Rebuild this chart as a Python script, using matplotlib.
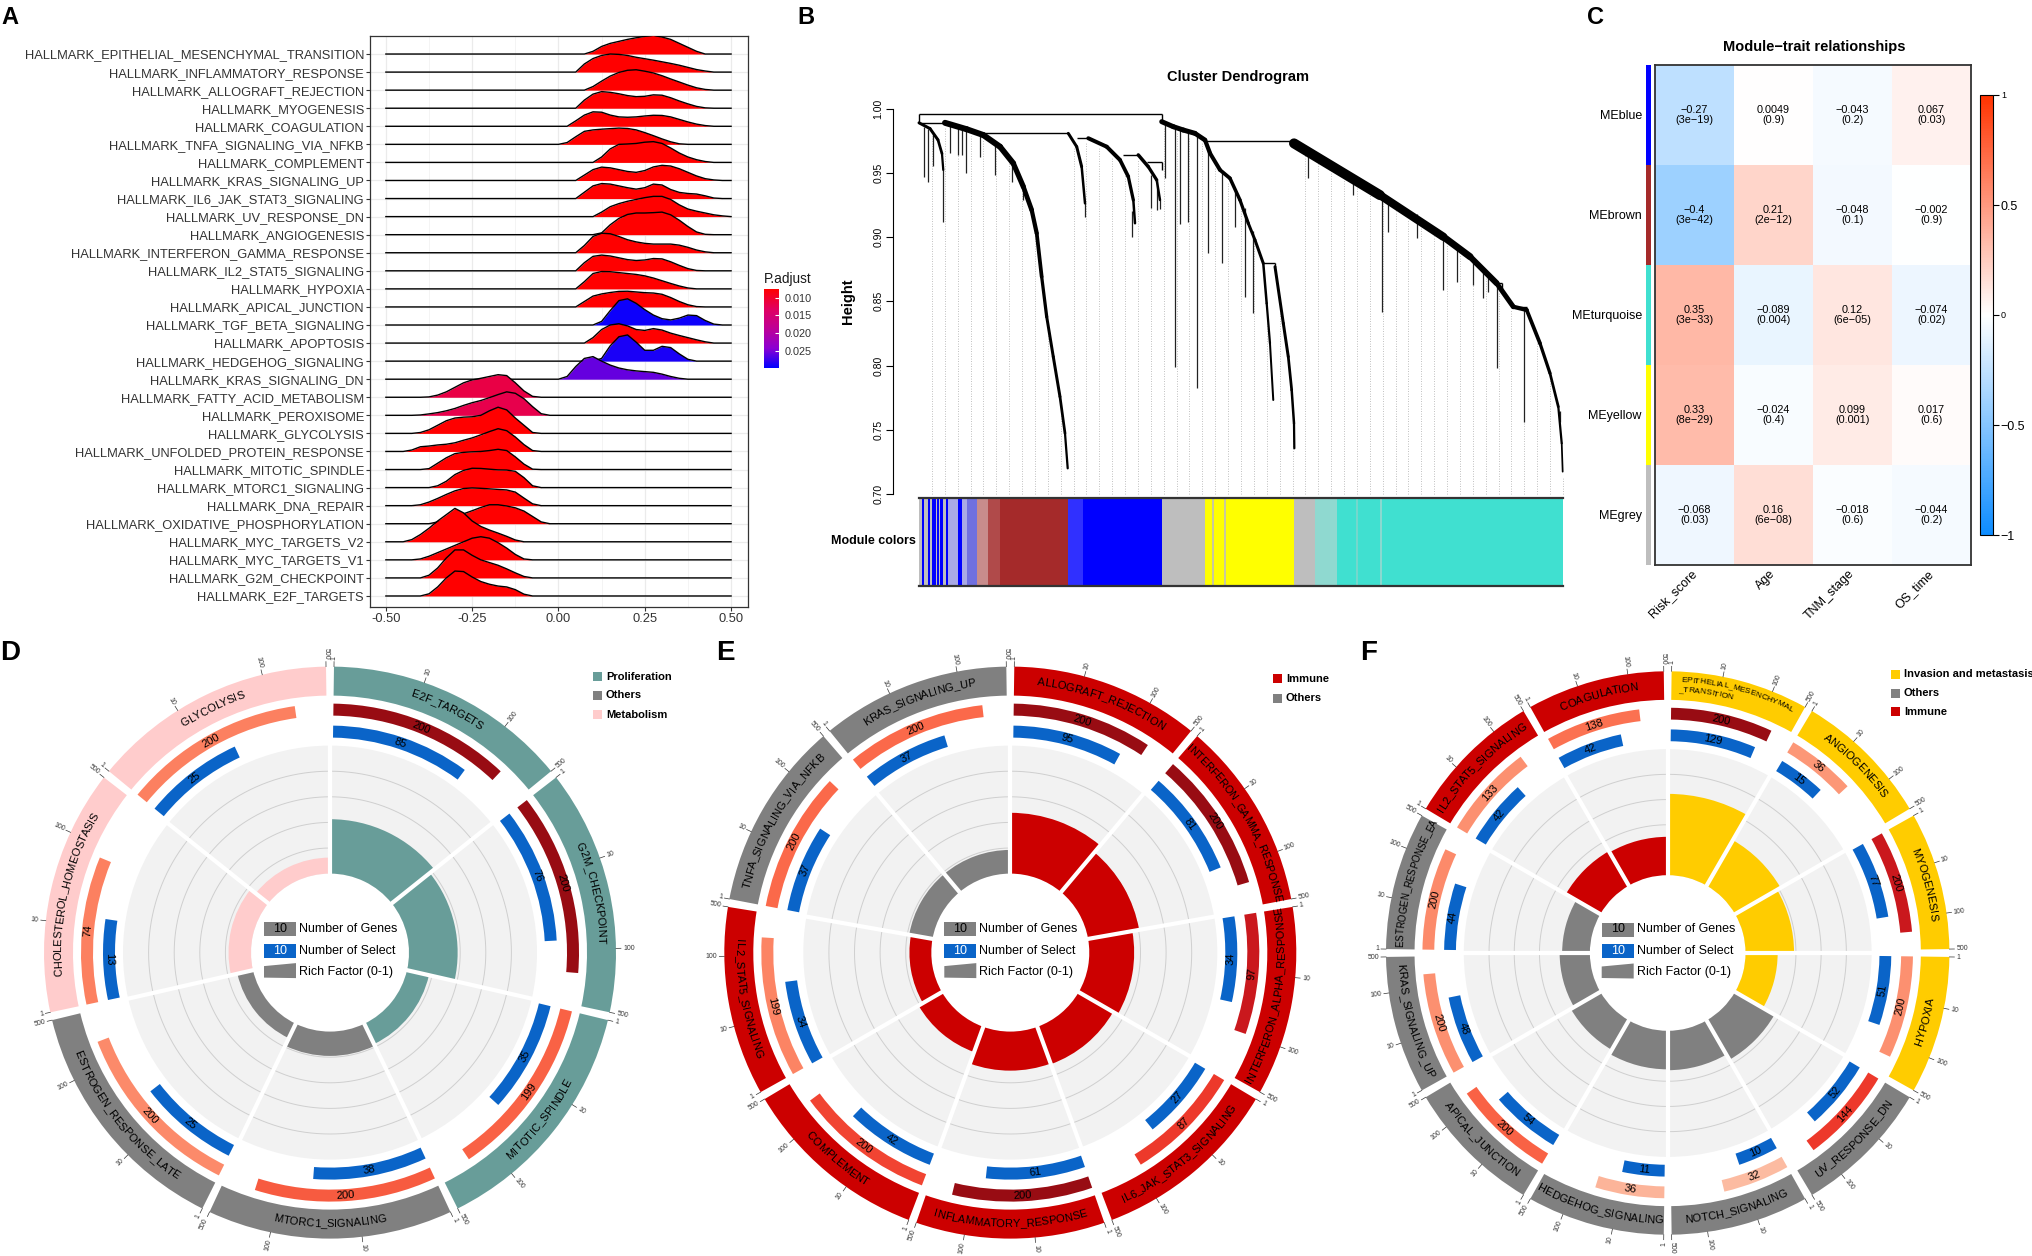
import numpy as np
import matplotlib
matplotlib.use("Agg")
import matplotlib.pyplot as plt
from matplotlib.colors import LinearSegmentedColormap, Normalize
from matplotlib.cm import ScalarMappable
from matplotlib.collections import LineCollection
from matplotlib.patches import Rectangle, Polygon
from matplotlib.textpath import TextToPath
from matplotlib.font_manager import FontProperties
from matplotlib.ticker import FixedLocator

W, H = 2032, 1256
SANS = ['Liberation Sans', 'DejaVu Sans']
plt.rcParams['font.family'] = SANS

# ---------------- A: GSEA ridge plot ----------------
hallmark = ["EPITHELIAL_MESENCHYMAL_TRANSITION", "INFLAMMATORY_RESPONSE", "ALLOGRAFT_REJECTION",
            "MYOGENESIS", "COAGULATION", "TNFA_SIGNALING_VIA_NFKB", "COMPLEMENT", "KRAS_SIGNALING_UP",
            "IL6_JAK_STAT3_SIGNALING", "UV_RESPONSE_DN", "ANGIOGENESIS", "INTERFERON_GAMMA_RESPONSE",
            "IL2_STAT5_SIGNALING", "HYPOXIA", "APICAL_JUNCTION", "TGF_BETA_SIGNALING", "APOPTOSIS",
            "HEDGEHOG_SIGNALING", "KRAS_SIGNALING_DN", "FATTY_ACID_METABOLISM", "PEROXISOME",
            "GLYCOLYSIS", "UNFOLDED_PROTEIN_RESPONSE", "MITOTIC_SPINDLE", "MTORC1_SIGNALING",
            "DNA_REPAIR", "OXIDATIVE_PHOSPHORYLATION", "MYC_TARGETS_V2", "MYC_TARGETS_V1",
            "G2M_CHECKPOINT", "E2F_TARGETS"]
padj = [0.0056, 0.0058, 0.0058, 0.006, 0.006, 0.006, 0.006, 0.006, 0.006, 0.006, 0.006, 0.006,
        0.006, 0.006, 0.006, 0.0292, 0.0062, 0.0287, 0.0258, 0.0116, 0.0121, 0.0062, 0.0062,
        0.006, 0.006, 0.006, 0.006, 0.006, 0.006, 0.006, 0.006]
# density curves, sampled every 0.025 starting at ridge_x0 (height in row units)
ridge_x0 = [0.075, 0.05, 0.075, 0.05, 0.025, 0.0, 0.1, 0.05, 0.05, 0.1, 0.1, 0.05, 0.05, 0.05, 0.05,
            0.1, 0.075, 0.1, 0.0, -0.4, -0.425, -0.425, -0.45, -0.4, -0.375, -0.425, -0.375, -0.45,
            -0.425, -0.4, -0.4]
ridge_h = [
    [0, 0.15, 0.42, 0.59, 0.7, 0.81, 0.9, 0.98, 1.03, 0.94, 0.81, 0.59, 0.37, 0.15, 0],
    [0, 0.45, 0.75, 0.92, 1.0, 0.98, 0.92, 0.82, 0.74, 0.66, 0.57, 0.48, 0.38, 0.26, 0.14, 0.06, 0],
    [0, 0.2, 0.5, 0.78, 0.98, 1.1, 1.13, 1.05, 0.95, 0.8, 0.62, 0.45, 0.28, 0.13, 0.04, 0],
    [0, 0.45, 0.78, 0.92, 0.88, 0.8, 0.7, 0.64, 0.66, 0.74, 0.72, 0.58, 0.4, 0.24, 0.1, 0.02, 0],
    [0, 0.3, 0.62, 0.8, 0.78, 0.62, 0.52, 0.5, 0.52, 0.57, 0.61, 0.6, 0.52, 0.38, 0.24, 0.12, 0.04, 0],
    [0, 0.1, 0.42, 0.72, 0.8, 0.84, 0.87, 0.9, 0.88, 0.8, 0.65, 0.48, 0.3, 0.14, 0.03, 0],
    [0, 0.3, 0.75, 1.0, 1.02, 1.05, 1.12, 1.15, 1.05, 0.8, 0.52, 0.3, 0.15, 0.05, 0],
    [0, 0.3, 0.6, 0.74, 0.7, 0.6, 0.5, 0.45, 0.55, 0.75, 0.84, 0.8, 0.65, 0.45, 0.25, 0.1, 0.03, 0],
    [0, 0.35, 0.7, 0.83, 0.8, 0.7, 0.6, 0.52, 0.6, 0.8, 0.75, 0.5, 0.34, 0.28, 0.25, 0.15, 0.03, 0],
    [0, 0.25, 0.55, 0.72, 0.85, 0.95, 1.05, 1.12, 1.12, 0.95, 0.65, 0.42, 0.3, 0.2, 0.1, 0.04, 0],
    [0, 0.1, 0.55, 0.9, 1.12, 1.2, 1.2, 1.22, 1.25, 1.1, 0.8, 0.45, 0.15, 0.02, 0],
    [0, 0.4, 0.9, 1.08, 1.05, 0.9, 0.72, 0.6, 0.52, 0.48, 0.48, 0.48, 0.42, 0.3, 0.15, 0.05, 0],
    [0, 0.45, 0.8, 0.87, 0.82, 0.72, 0.62, 0.57, 0.6, 0.68, 0.66, 0.5, 0.3, 0.12, 0.02, 0],
    [0, 0.4, 0.85, 0.96, 0.95, 0.9, 0.85, 0.8, 0.72, 0.6, 0.45, 0.3, 0.16, 0.05, 0],
    [0, 0.3, 0.6, 0.72, 0.8, 0.86, 0.87, 0.83, 0.79, 0.77, 0.7, 0.52, 0.3, 0.12, 0.02, 0],
    [0, 0.2, 0.8, 1.35, 1.45, 1.2, 0.85, 0.55, 0.35, 0.28, 0.38, 0.55, 0.52, 0.25, 0.05, 0],
    [0, 0.3, 0.75, 1.0, 1.07, 0.95, 0.75, 0.7, 0.8, 0.72, 0.55, 0.42, 0.3, 0.18, 0.07, 0],
    [0, 0.15, 0.85, 1.35, 1.45, 1.05, 0.6, 0.6, 0.82, 0.75, 0.4, 0.1, 0],
    [0, 0.15, 0.7, 1.15, 1.25, 1.0, 0.78, 0.62, 0.52, 0.46, 0.42, 0.38, 0.28, 0.15, 0.05, 0],
    [0, 0.02, 0.12, 0.3, 0.55, 0.8, 0.96, 1.05, 1.15, 1.25, 1.2, 0.8, 0.35, 0.05, 0],
    [0, 0.02, 0.08, 0.15, 0.25, 0.38, 0.55, 0.7, 0.82, 0.98, 1.15, 1.3, 1.22, 0.92, 0.48, 0.09, 0],
    [0, 0.05, 0.2, 0.45, 0.7, 0.85, 0.9, 0.92, 1.0, 1.25, 1.45, 1.3, 0.85, 0.45, 0.05, 0],
    [0, 0.08, 0.26, 0.3, 0.36, 0.4, 0.48, 0.62, 0.75, 0.92, 1.1, 1.26, 1.15, 0.8, 0.38, 0.05, 0],
    [0, 0.05, 0.35, 0.65, 0.88, 0.95, 0.98, 1.0, 1.05, 1.12, 1.05, 0.7, 0.3, 0.02, 0],
    [0, 0.1, 0.35, 0.72, 0.95, 1.07, 1.06, 1.02, 0.98, 0.97, 0.9, 0.55, 0.1, 0],
    [0, 0.05, 0.2, 0.4, 0.62, 0.82, 0.95, 0.98, 0.96, 0.93, 0.9, 0.87, 0.75, 0.42, 0.1, 0],
    [0, 0.1, 0.25, 0.4, 0.55, 0.72, 0.9, 1.05, 1.05, 0.98, 0.88, 0.7, 0.4, 0.1, 0],
    [0, 0.12, 0.4, 0.75, 1.15, 1.5, 1.85, 1.6, 1.15, 0.85, 0.65, 0.48, 0.3, 0.1, 0],
    [0, 0.05, 0.2, 0.4, 0.6, 0.8, 1.0, 1.2, 1.28, 1.2, 0.95, 0.65, 0.3, 0.05, 0],
    [0, 0.15, 0.55, 1.1, 1.55, 1.55, 1.25, 1.0, 0.85, 0.7, 0.5, 0.28, 0.08, 0],
    [0, 0.12, 0.5, 1.0, 1.38, 1.35, 1.05, 0.8, 0.65, 0.55, 0.5, 0.35, 0.1, 0],
]
padj_ticks = [0.010, 0.015, 0.020, 0.025]

# ---------------- B: WGCNA dendrogram (leaf position in %, height) ----------------
dendro_chains = [
    [(0.0, 0.9890, 3), (1.71, 0.9845, 3), (2.95, 0.9757, 3), (3.57, 0.9650, 2.5), (3.77, 0.9523, 2)],
    [(4.04, 0.9890, 6), (7.41, 0.9840, 6), (9.98, 0.9795, 6), (12.58, 0.9704, 6), (14.64, 0.9575, 5.5),
     (16.20, 0.9393, 5), (17.50, 0.9211, 4.5), (18.28, 0.9030, 4), (19.05, 0.8692, 3.5), (19.83, 0.8380, 3),
     (20.85, 0.8069, 3), (21.89, 0.7758, 3), (22.67, 0.7473, 2.5), (23.09, 0.7200, 2)],
    [(23.18, 0.9808, 3), (24.49, 0.9704, 3), (25.26, 0.9548, 3), (25.78, 0.9263, 2)],
    [(26.29, 0.9770, 4), (29.15, 0.9704, 4), (31.21, 0.9601, 4), (32.50, 0.9471, 3.5), (33.28, 0.9289, 3),
     (33.54, 0.9108, 2)],
    [(34.05, 0.9640, 3.5), (35.61, 0.9548, 3.5), (36.91, 0.9445, 3), (37.42, 0.9289, 2)],
    [(37.69, 0.9899, 5), (39.49, 0.9860, 5), (41.04, 0.9834, 5), (42.86, 0.9808, 5), (44.41, 0.9756, 4.5),
     (45.19, 0.9653, 4), (46.74, 0.9523, 4), (48.29, 0.9458, 3.5), (49.84, 0.9289, 3.5), (51.13, 0.9108, 3),
     (52.17, 0.8978, 3), (53.46, 0.8796, 3)],
    [(55.28, 0.8770, 3), (56.57, 0.8329, 3), (57.34, 0.8069, 3), (57.87, 0.7810, 2.5), (58.23, 0.7550, 2.5),
     (58.28, 0.7356, 2)],
    [(53.46, 0.8796, 2.5), (53.99, 0.8484, 2.5), (54.50, 0.8173, 2), (55.01, 0.7732, 2)],
    [(58.23, 0.9730, 11), (71.58, 0.9327, 9), (81.41, 0.9003, 7.5), (85.56, 0.8848, 6.5), (89.70, 0.8641, 5.5),
     (92.28, 0.8458, 4.5), (94.36, 0.8433, 4), (96.43, 0.8173, 3.5), (97.98, 0.7940, 3), (99.27, 0.7680, 2.5),
     (99.80, 0.7395, 2), (99.95, 0.7174, 1.5)],
]
dendro_links = [
    [(0, 0.9956), (37.69, 0.9956)], [(0, 0.9956), (0, 0.9890)], [(37.69, 0.9956), (37.69, 0.9899)],
    [(0, 0.9890), (4.04, 0.9890)], [(9.21, 0.9808), (23.18, 0.9808)], [(24.49, 0.9770), (26.29, 0.9770)],
    [(31.72, 0.9640), (34.05, 0.9640)], [(35.36, 0.9587), (37.69, 0.9587)], [(37.69, 0.9587), (37.69, 0.9523)],
    [(44.41, 0.9750), (58.23, 0.9750)], [(53.46, 0.8796), (55.28, 0.8796)], [(55.28, 0.8796), (55.28, 0.8770)],
    [(89.70, 0.8641), (90.53, 0.8641)], [(90.53, 0.8641), (90.53, 0.8600)], [(92.28, 0.8458), (94.36, 0.8458)],
]
dendro_drops = [
    (0.78, 0.986, 0.947), (1.44, 0.984, 0.943), (2.22, 0.980, 0.955), (3.77, 0.9523, 0.912),
    (4.81, 0.9886, 0.9653), (6.10, 0.9860, 0.9640), (6.63, 0.9855, 0.9640), (7.25, 0.9845, 0.9497),
    (9.47, 0.9790, 0.9627), (11.80, 0.9740, 0.9484), (14.39, 0.9590, 0.9432), (16.20, 0.9393, 0.9290),
    (25.78, 0.9263, 0.9160), (33.03, 0.9200, 0.9000), (36.02, 0.9480, 0.9227), (36.96, 0.9450, 0.9211),
    (37.42, 0.9289, 0.9220), (38.20, 0.9886, 0.9458), (39.75, 0.9850, 0.7991), (40.53, 0.9840, 0.9100),
    (41.82, 0.9820, 0.9120), (43.12, 0.9800, 0.7825), (44.92, 0.9700, 0.8874), (47.00, 0.9510, 0.8796),
    (49.07, 0.9350, 0.9081), (50.62, 0.9230, 0.8536), (51.91, 0.9050, 0.8407), (60.36, 0.9700, 0.9460),
    (67.44, 0.9445, 0.9326), (71.85, 0.9320, 0.8419), (72.87, 0.9290, 0.9042), (77.28, 0.9180, 0.8991),
    (81.41, 0.9000, 0.8588), (83.49, 0.8930, 0.8650), (85.95, 0.8830, 0.8627), (87.62, 0.8760, 0.8526),
    (88.40, 0.8720, 0.8573), (89.75, 0.8640, 0.7981), (93.94, 0.8450, 0.7563), (99.53, 0.7650, 0.7563),
]
mod_bounds = [0, 0.51, 0.82, 1.44, 1.71, 2.07, 2.59, 2.75, 3.11, 3.26, 3.77, 4.15, 4.55, 6.10, 6.63, 7.41,
              8.96, 10.76, 12.5, 23.09, 25.5, 37.69, 44.41, 58.23, 61.49, 64.86, 100]
mod_colors = ['#BEBEBE', '#0000FF', '#BEBEBE', '#0000FF', '#BEBEBE', '#0000FF', '#BEBEBE', '#0000FF',
              '#BEBEBE', '#0000FF', '#BEBEBE', '#0000FF', '#A9A9E6', '#0000FF', '#A9A9E6', '#7070E0',
              '#C88C8C', '#B04A4A', '#A52A2A', '#3030FF', '#0000FF', '#BEBEBE', '#FFFF00', '#BEBEBE',
              '#8FD9D0', '#40E0D0']
mod_stripes = [45.7, 47.5, 68.0, 71.7]
mod_stripe_colors = ['#BEBEBE', '#BEBEBE', '#7FD6CC', '#9AD8D0']

# ---------------- C: module-trait heatmap ----------------
traits = ['Risk_score', 'Age', 'TNM_stage', 'OS_time']
modules = ['MEblue', 'MEbrown', 'MEturquoise', 'MEyellow', 'MEgrey']
module_colors = ['#0000FF', '#A52A2A', '#40E0D0', '#FFFF00', '#BEBEBE']
cor = [[-0.27, 0.0049, -0.043, 0.067],
       [-0.4, 0.21, -0.048, -0.002],
       [0.35, -0.089, 0.12, -0.074],
       [0.33, -0.024, 0.099, 0.017],
       [-0.068, 0.16, -0.018, -0.044]]
cor_p = [['3e-19', '0.9', '0.2', '0.03'],
         ['3e-42', '2e-12', '0.1', '0.9'],
         ['3e-33', '0.004', '6e-05', '0.02'],
         ['8e-29', '0.4', '0.001', '0.6'],
         ['0.03', '6e-08', '0.6', '0.2']]

# ---------------- D/E/F: enrichment circles ----------------
cat_color = {'Proliferation': '#689D99', 'Others': '#808080', 'Metabolism': '#FFCCCC',
             'Immune': '#CC0000', 'Invasion and metastasis': '#FFCC00'}
d_names = ['E2F_TARGETS', 'G2M_CHECKPOINT', 'MITOTIC_SPINDLE', 'MTORC1_SIGNALING',
           'ESTROGEN_RESPONSE_LATE', 'CHOLESTEROL_HOMEOSTASIS', 'GLYCOLYSIS']
d_genes = [200, 200, 199, 200, 200, 74, 200]
d_select = [85, 76, 35, 38, 25, 13, 25]
d_cats = ['Proliferation', 'Proliferation', 'Proliferation', 'Others', 'Others', 'Metabolism', 'Metabolism']
d_shade = [0.9, 0.9, 0.52, 0.54, 0.4, 0.43, 0.43]
d_legend = ['Proliferation', 'Others', 'Metabolism']

e_names = ['ALLOGRAFT_REJECTION', 'INTERFERON_GAMMA_RESPONSE', 'INTERFERON_ALPHA_RESPONSE',
           'IL6_JAK_STAT3_SIGNALING', 'INFLAMMATORY_RESPONSE', 'COMPLEMENT', 'IL2_STAT5_SIGNALING',
           'TNFA_SIGNALING_VIA_NFKB', 'KRAS_SIGNALING_UP']
e_genes = [200, 200, 97, 87, 200, 200, 199, 200, 200]
e_select = [95, 81, 34, 27, 61, 42, 34, 37, 37]
e_cats = ['Immune'] * 7 + ['Others'] * 2
e_shade = [0.9, 0.9, 0.75, 0.63, 0.9, 0.6, 0.42, 0.5, 0.5]
e_legend = ['Immune', 'Others']

f_names = ['EPITHELIAL_MESENCHYMAL\n_TRANSITION', 'ANGIOGENESIS', 'MYOGENESIS', 'HYPOXIA', 'UV_RESPONSE_DN',
           'NOTCH_SIGNALING', 'HEDGEHOG_SIGNALING', 'APICAL_JUNCTION', 'KRAS_SIGNALING_UP',
           'ESTROGEN_RESPONSE_EARLY', 'IL2_STAT5_SIGNALING', 'COAGULATION']
f_genes = [200, 36, 200, 200, 144, 32, 36, 200, 200, 200, 133, 138]
f_select = [129, 15, 77, 51, 52, 10, 11, 54, 48, 44, 42, 42]
f_cats = ['Invasion and metastasis'] * 4 + ['Others'] * 6 + ['Immune'] * 2
f_shade = [0.9, 0.36, 0.75, 0.38, 0.63, 0.25, 0.27, 0.52, 0.38, 0.4, 0.38, 0.48]
f_legend = ['Invasion and metastasis', 'Others', 'Immune']

SEL_BLUE = '#0A64C8'

fig = plt.figure(figsize=(W / 100, H / 100), dpi=100)
ttp = TextToPath()


def text_w(s, fs, weight='normal'):
    w, _, _ = ttp.get_text_width_height_descent(s, FontProperties(family=SANS, size=fs, weight=weight),
                                                ismath=False)
    return w * 100 / 72


def px_axes(l, t, r, b, **kw):
    return fig.add_axes([l / W, 1 - b / H, (r - l) / W, (b - t) / H], **kw)


# ===== A =====
padj_cmap = LinearSegmentedColormap.from_list('padj', ['#FF0000', '#E1005F', '#BE0096', '#8C00D2', '#0000FF'])
padj_norm = Normalize(0.0076, 0.0298, clip=True)
axA = px_axes(370, 35.6, 748, 607)
n = len(hallmark)
for i in range(n):
    base = n - 1 - i
    hs = np.array(ridge_h[i], dtype=float)
    xs = ridge_x0[i] + 0.025 * np.arange(len(hs))
    xx = np.concatenate([[-0.5], xs, [0.5]])
    yy = base + np.concatenate([[0.0], hs, [0.0]])
    axA.fill_between(xx, base, yy, color=padj_cmap(padj_norm(padj[i])), lw=0, zorder=3 + 2 * i)
    axA.plot(xx, yy, color='black', lw=1.0, zorder=4 + 2 * i, solid_joinstyle='round')
axA.set_xlim(-0.546, 0.549)
axA.set_ylim(-0.61, 31.02)
# row labels sized so the longest one spans the same width as in the figure
lab_fs = 10 * 341 / text_w('HALLMARK_' + hallmark[0], 10)
axA.set_xticks([-0.5, -0.25, 0, 0.25, 0.5])
axA.set_xticklabels(['-0.50', '-0.25', '0.00', '0.25', '0.50'], fontsize=lab_fs, color='#333333')
axA.xaxis.set_minor_locator(FixedLocator([-0.375, -0.125, 0.125, 0.375]))
axA.set_yticks(range(n))
axA.set_yticklabels(['HALLMARK_' + s for s in hallmark[::-1]], fontsize=lab_fs, color='#333333')
axA.tick_params(length=2.75, pad=1.6, color='#333333', width=0.8)
axA.tick_params(which='minor', length=0)
axA.grid(True, which='major', color='#EBEBEB', lw=0.9)
axA.grid(True, which='minor', axis='x', color='#F3F3F3', lw=0.6)
axA.set_axisbelow(True)
for sp in axA.spines.values():
    sp.set_color('#333333')
    sp.set_linewidth(0.9)

caxA = px_axes(764, 289, 779, 368)
cbA = fig.colorbar(ScalarMappable(norm=Normalize(0.0076, 0.0298), cmap=padj_cmap), cax=caxA, ticks=padj_ticks)
caxA.invert_yaxis()
cbA.outline.set_visible(False)
caxA.set_yticklabels(['%.3f' % v for v in padj_ticks], fontsize=7.8, color='#333333')
caxA.tick_params(direction='in', length=3, color='white', width=0.8, pad=4)

# ===== B =====
axB = px_axes(919, 108.7, 1563, 494)
axB.set_xlim(0, 100)
axB.set_ylim(0.70, 1.00)
for sp in ['top', 'right', 'bottom']:
    axB.spines[sp].set_visible(False)
axB.spines['left'].set_position(('outward', 26 * 0.72))
axB.spines['left'].set_linewidth(0.8)
axB.set_xticks([])
yt = np.arange(0.70, 1.0001, 0.05)
axB.set_yticks(yt)
axB.set_yticklabels(['%.2f' % v for v in yt], rotation=90, va='center', fontsize=7.5)
axB.tick_params(axis='y', length=5, width=0.8, pad=2)


def dendro_top(p):
    cands = []
    for ch in dendro_chains:
        ps = [c[0] for c in ch]
        hs = [c[1] for c in ch]
        if ps[0] <= p <= ps[-1]:
            cands.append(np.interp(p, ps, hs))
    for (a, b) in dendro_links:
        if a[1] == b[1] and min(a[0], b[0]) <= p <= max(a[0], b[0]):
            cands.append(a[1])
    return (min(cands) if cands else 0.7174) - 0.004


guide_pos = np.arange(1, 51) * 2.0
for p in guide_pos:
    axB.plot([p, p], [0.70, dendro_top(p)], color='#ABABAB', lw=0.6, ls=(0, (1, 2)), zorder=1, clip_on=False)
for ch in dendro_chains:
    segs = [[(ch[k][0], ch[k][1]), (ch[k + 1][0], ch[k + 1][1])] for k in range(len(ch) - 1)]
    lws = [0.72 * (ch[k][2] + ch[k + 1][2]) / 2 for k in range(len(ch) - 1)]
    axB.add_collection(LineCollection(segs, linewidths=lws, colors='black', capstyle='round',
                                      joinstyle='round', zorder=3, clip_on=False))
axB.add_collection(LineCollection(dendro_links, linewidths=1.0, colors='black', zorder=3, clip_on=False))
axB.add_collection(LineCollection([[(p, a), (p, b)] for p, a, b in dendro_drops], linewidths=0.9,
                                  colors='#222222', zorder=2, clip_on=False))

axM = px_axes(919, 498, 1563, 586)
axM.set_xlim(0, 100)
axM.set_ylim(0, 1)
axM.bar(mod_bounds[:-1], 1, width=np.diff(mod_bounds), align='edge', color=mod_colors, lw=0)
axM.vlines(mod_stripes, 0, 1, colors=mod_stripe_colors, lw=1.2)
axM.set_xticks([])
axM.set_yticks([])
for sp in ['left', 'right']:
    axM.spines[sp].set_visible(False)
for sp in ['top', 'bottom']:
    axM.spines[sp].set_color('#333333')
    axM.spines[sp].set_linewidth(1.6)

# ===== C =====
bwr = LinearSegmentedColormap.from_list('bwr', ['#0D8CFF', '#FFFFFF', '#FF3300'])
axC = px_axes(1655, 65, 1971, 565)
axC.pcolormesh(np.array(cor), cmap=bwr, vmin=-1, vmax=1)
axC.set_xlim(0, 4)
axC.set_ylim(5, 0)
for i in range(5):
    for j in range(4):
        txt = ('%.2g' % cor[i][j]).replace('-', '\u2212') + '\n(' + cor_p[i][j].replace('-', '\u2212') + ')'
        axC.text(j + 0.5, i + 0.5, txt, ha='center', va='center', fontsize=7.8, linespacing=0.95)
axC.set_xticks(np.arange(4) + 0.5)
axC.set_xticklabels(traits, rotation=45, ha='right', va='center', rotation_mode='anchor', fontsize=9)
axC.set_yticks(np.arange(5) + 0.5)
axC.set_yticklabels(modules, fontsize=9)
axC.tick_params(axis='y', length=0, pad=9.5)
axC.tick_params(axis='x', length=0, pad=5)
for sp in axC.spines.values():
    sp.set_color('#333333')
    sp.set_linewidth(1.3)
axS = px_axes(1646, 65, 1651, 565)
axS.barh(np.arange(5), 1, height=1, align='edge', color=module_colors, lw=0)
axS.set_ylim(5, 0)
axS.set_xlim(0, 1)
axS.set_axis_off()

caxC = px_axes(1980, 95, 1992.5, 535)
cbC = fig.colorbar(ScalarMappable(norm=Normalize(-1, 1), cmap=bwr), cax=caxC, ticks=[-1, -0.5, 0, 0.5, 1])
caxC.set_yticklabels(['\u22121', '\u22120.5', '0', '0.5', '1'])
for lab, fs in zip(caxC.get_yticklabels(), [9, 9, 6.5, 9, 6.5]):
    lab.set_fontsize(fs)
caxC.tick_params(length=4, width=0.8, pad=2)
cbC.outline.set_linewidth(0.8)


# ===== D / E / F =====
def tangent_text(ax, t, r, s, fs, color='black'):
    upper = np.cos(t) >= 0
    rot = -np.degrees(t) + (0 if upper else 180)
    ax.text(t, r, s, rotation=rot, rotation_mode='anchor', ha='center', va='center', fontsize=fs,
            color=color, zorder=6)


def curved_text(ax, s, tc, r, fs, block=None, lo=None, hi=None):
    total = block if block is not None else text_w(s, fs)
    upper = np.cos(tc) >= 0
    shift = 0.0
    if lo is not None and total / r > hi - lo:
        # long names: a little smaller, starting at the sector edge and cut at the other edge
        fs = max(7.0, fs * (hi - lo) * r / total)
        total = text_w(s, fs)
        if total / r > hi - lo:
            shift = (total / r - (hi - lo)) / 2 + np.radians(0.5)
    prev = 0.0
    for k, ch in enumerate(s):
        cur = text_w(s[:k + 1], fs)
        mid = (prev + cur) / 2 - total / 2
        prev = cur
        t = tc + mid / r + shift if upper else tc - mid / r - shift
        if lo is not None and (t < lo or t > hi):
            continue
        rot = -np.degrees(t) + (0 if upper else 180)
        ax.text(t, r, ch, rotation=rot, rotation_mode='anchor', ha='center', va='center', fontsize=fs,
                zorder=6)


def circle_panel(cx, cy, names, genes, select, cats, shade, sc=1.0):
    RL = 320
    ax = fig.add_axes([(cx - RL) / W, 1 - (cy + RL) / H, 2 * RL / W, 2 * RL / H], projection='polar')
    ax.set_theta_zero_location('N')
    ax.set_theta_direction(-1)
    ax.set_ylim(0, RL)
    ax.set_axis_off()
    m = len(names)
    S = 2 * np.pi / m
    g = np.radians(1.6)
    r0, r1 = 79 * sc, 207 * sc
    rs0, rs1 = 215 * sc, 227 * sc
    rg0, rg1 = 237 * sc, 249 * sc
    ro0, ro1 = 257 * sc, 286 * sc
    lmax = np.log10(500)
    for i in range(m):
        a0 = i * S + g / 2
        span = S - g
        col = cat_color[cats[i]]
        ax.bar(i * S, r1 - r0, width=S, bottom=r0, align='edge', color='#F2F2F2', lw=0, zorder=1)
        ax.bar(i * S, (r1 - r0) * select[i] / genes[i], width=S, bottom=r0, align='edge', color=col, lw=0,
               zorder=3)
        ax.bar(a0, ro1 - ro0, width=span, bottom=ro0, align='edge', color=col, lw=0, zorder=1)
        fg = np.log10(genes[i]) / lmax
        fsl = np.log10(select[i]) / lmax
        ax.bar(a0, rg1 - rg0, width=span * fg, bottom=rg0, align='edge', color=plt.cm.Reds(shade[i]), lw=0)
        ax.bar(a0, rs1 - rs0, width=span * fsl, bottom=rs0, align='edge', color=SEL_BLUE, lw=0)
        tangent_text(ax, a0 + span * fg / 2, (rg0 + rg1) / 2, str(genes[i]), 8)
        tangent_text(ax, a0 + span * fsl / 2, (rs0 + rs1) / 2, str(select[i]), 8)
        for v in [1, 10, 100, 500]:
            t = a0 + span * np.log10(v) / lmax
            ax.plot([t, t], [ro1, ro1 + 5], color='#333333', lw=0.5)
            right = np.sin(t) >= 0
            phi = 90 - np.degrees(t)
            ax.text(t, ro1 + 7, str(v), rotation=phi if right else phi + 180, rotation_mode='anchor',
                    ha='left' if right else 'right', va='center', fontsize=5, color='#333333')
        lines = names[i].split('\n')
        tc = i * S + S / 2
        rm = (ro0 + ro1) / 2
        if len(lines) == 1:
            curved_text(ax, lines[0], tc, rm, 8, lo=a0, hi=a0 + span)
        else:
            bw = text_w(lines[0], 6)
            curved_text(ax, lines[0], tc, rm + 5.5, 6, block=bw)
            curved_text(ax, lines[1], tc, rm - 4.5, 6, block=bw)
    th = np.linspace(0, 2 * np.pi, 361)
    for k in range(1, 5):
        ax.plot(th, np.full_like(th, r0 + k * (r1 - r0) / 5), color='#CFCFCF', lw=0.7, zorder=2)
    for i in range(m):
        ax.plot([i * S, i * S], [r0 - 1, r1 + 1], color='white', lw=3, zorder=4, solid_capstyle='butt')
    return ax


circle_panel(330, 952.6, d_names, d_genes, d_select, d_cats, d_shade)
circle_panel(1010.3, 952.6, e_names, e_genes, e_select, e_cats, e_shade)
circle_panel(1667.7, 953, f_names, f_genes, f_select, f_cats, f_shade, sc=0.985)

# ===== overlay: titles, letters, legends =====
ov = fig.add_axes([0, 0, 1, 1])
ov.set_xlim(0, W)
ov.set_ylim(H, 0)
ov.set_axis_off()
ov.patch.set_alpha(0)

for lab, x, y, fs in [('A', 1, 6, 17), ('B', 797, 6, 17), ('C', 1587, 6, 17),
                      ('D', 0, 640, 20), ('E', 716, 640, 20), ('F', 1360, 640, 20)]:
    ov.text(x, y, lab, ha='left', va='top', fontsize=fs, fontweight='bold')

ov.text(764, 279, 'P.adjust', ha='left', va='center', fontsize=9.8, color='#1A1A1A')
ov.text(1238, 77, 'Cluster Dendrogram', ha='center', va='center', fontsize=10.5, fontweight='bold')
ov.text(848, 301, 'Height', ha='center', va='center', rotation=90, fontsize=10.5, fontweight='bold')
ov.text(916, 541, 'Module colors', ha='right', va='center', fontsize=9, fontweight='bold')
ov.text(1814, 47, 'Module\u2212trait relationships', ha='center', va='center', fontsize=10.5, fontweight='bold')


def center_legend(cx, cy):
    x0, x1 = cx - 66, cx - 34
    ov.add_patch(Rectangle((x0, cy - 30.5), x1 - x0, 14, color='#808080', lw=0))
    ov.text((x0 + x1) / 2, cy - 23.5, '10', ha='center', va='center', fontsize=9, color='black')
    ov.text(cx - 31, cy - 23.5, 'Number of Genes', ha='left', va='center', fontsize=9)
    ov.add_patch(Rectangle((x0, cy - 9), x1 - x0, 14, color=SEL_BLUE, lw=0))
    ov.text((x0 + x1) / 2, cy - 2, '10', ha='center', va='center', fontsize=9, color='white')
    ov.text(cx - 31, cy - 2, 'Number of Select', ha='left', va='center', fontsize=9)
    ov.add_patch(Polygon([(x0, cy + 13.5), (x0 + 16, cy + 12), (x1, cy + 10.5), (x1, cy + 25.5),
                          (x0, cy + 25)], closed=True, color='#808080', lw=0))
    ov.text(cx - 31, cy + 19, 'Rich Factor (0-1)', ha='left', va='center', fontsize=9)


center_legend(330, 952.6)
center_legend(1010.3, 952.6)
center_legend(1667.7, 953)


def cat_legend(x, ys, labels):
    for y, lab in zip(ys, labels):
        ov.add_patch(Rectangle((x, y - 4.5), 9, 9, color=cat_color[lab], lw=0))
        ov.text(x + 13, y, lab, ha='left', va='center', fontsize=8, fontweight='bold')


cat_legend(593, [676.8, 695.4, 714.5], d_legend)
cat_legend(1273, [678.8, 698], e_legend)
cat_legend(1891, [674, 693, 711.7], f_legend)

fig.savefig('out.png', dpi=100)
